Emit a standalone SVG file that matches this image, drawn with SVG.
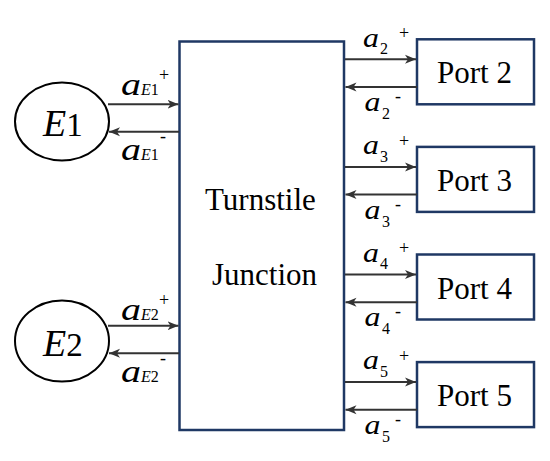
<svg xmlns="http://www.w3.org/2000/svg" width="550" height="461" viewBox="0 0 550 461">
<style>
.box{fill:#fff;stroke:#1f3864;stroke-width:2.5}
.src{fill:#fff;stroke:#000;stroke-width:2}
text{font-family:"Liberation Serif",serif;fill:#000}
.it{font-style:italic}
.cn line{stroke:#333;stroke-width:2}
</style>
<defs>
<marker id="ah" markerUnits="userSpaceOnUse" markerWidth="12" markerHeight="10" refX="11" refY="5" orient="auto">
<path d="M0,0.5 L11,5 L0,9.5 L3,5 z" fill="#333"/>
</marker>
</defs>
<rect width="550" height="461" fill="#fff"/>
<g id="junction">
<rect class="box" x="179.5" y="41.5" width="164.5" height="388.5"/>
<text x="205" y="210" font-size="31">Turnstile</text>
<text x="212" y="285" font-size="31">Junction</text>
</g>
<g id="E1">
<ellipse class="src" cx="62" cy="121.5" rx="47" ry="39"/>
<text y="136" font-size="38"><tspan class="it" x="43">E</tspan><tspan font-size="33">1</tspan></text>
</g>
<g id="E2">
<ellipse class="src" cx="62" cy="341" rx="47" ry="40.5"/>
<text y="356" font-size="38"><tspan class="it" x="43">E</tspan><tspan font-size="33">2</tspan></text>
</g>
<g id="port2"><rect class="box" x="417" y="39.3" width="117" height="65"/><text x="437" y="83.3" font-size="31">Port 2</text></g>
<g id="port3"><rect class="box" x="417" y="146.9" width="117" height="65"/><text x="437" y="190.9" font-size="31">Port 3</text></g>
<g id="port4"><rect class="box" x="417" y="254.5" width="117" height="65"/><text x="437" y="298.5" font-size="31">Port 4</text></g>
<g id="port5"><rect class="box" x="417" y="362.1" width="117" height="65"/><text x="437" y="406.1" font-size="31">Port 5</text></g>
<g id="connectors" class="cn">
<line x1="108" y1="104.3" x2="178.5" y2="104.3" marker-end="url(#ah)"/>
<line x1="179" y1="131.7" x2="109" y2="131.7" marker-end="url(#ah)"/>
<line x1="108" y1="325.7" x2="178.5" y2="325.7" marker-end="url(#ah)"/>
<line x1="179" y1="353.3" x2="109" y2="353.3" marker-end="url(#ah)"/>
<line x1="345" y1="59.3" x2="416" y2="59.3" marker-end="url(#ah)"/>
<line x1="417" y1="87" x2="345.5" y2="87" marker-end="url(#ah)"/>
<line x1="345" y1="166.9" x2="416" y2="166.9" marker-end="url(#ah)"/>
<line x1="417" y1="194.6" x2="345.5" y2="194.6" marker-end="url(#ah)"/>
<line x1="345" y1="274.5" x2="416" y2="274.5" marker-end="url(#ah)"/>
<line x1="417" y1="302.2" x2="345.5" y2="302.2" marker-end="url(#ah)"/>
<line x1="345" y1="382.1" x2="416" y2="382.1" marker-end="url(#ah)"/>
<line x1="417" y1="409.8" x2="345.5" y2="409.8" marker-end="url(#ah)"/>
</g>
<g id="labels">
<text transform="translate(121,95) scale(1.25,1)" font-size="32" class="it">a</text><text x="141" y="95" font-size="16"><tspan class="it">E</tspan>1</text><text x="159" y="81" font-size="18">+</text>
<text transform="translate(121,160) scale(1.25,1)" font-size="32" class="it">a</text><text x="141" y="160" font-size="16"><tspan class="it">E</tspan>1</text><text x="160" y="142" font-size="18">-</text>
<text transform="translate(121,320) scale(1.25,1)" font-size="32" class="it">a</text><text x="141" y="320" font-size="16"><tspan class="it">E</tspan>2</text><text x="159" y="306" font-size="18">+</text>
<text transform="translate(121,382) scale(1.25,1)" font-size="32" class="it">a</text><text x="141" y="382" font-size="16"><tspan class="it">E</tspan>2</text><text x="160" y="364" font-size="18">-</text>
<text transform="translate(363,46.5) scale(1.18,1)" font-size="27" class="it">a</text><text x="380" y="54" font-size="16">2</text><text x="399" y="39" font-size="18">+</text>
<text transform="translate(364.5,111) scale(1.18,1)" font-size="27" class="it">a</text><text x="382" y="119" font-size="16">2</text><text x="395" y="102" font-size="18">-</text>
<text transform="translate(363,154.1) scale(1.18,1)" font-size="27" class="it">a</text><text x="380" y="161.6" font-size="16">3</text><text x="399" y="146.6" font-size="18">+</text>
<text transform="translate(364.5,218.6) scale(1.18,1)" font-size="27" class="it">a</text><text x="382" y="226.6" font-size="16">3</text><text x="395" y="209.6" font-size="18">-</text>
<text transform="translate(363,261.7) scale(1.18,1)" font-size="27" class="it">a</text><text x="380" y="269.2" font-size="16">4</text><text x="399" y="254.2" font-size="18">+</text>
<text transform="translate(364.5,326.2) scale(1.18,1)" font-size="27" class="it">a</text><text x="382" y="334.2" font-size="16">4</text><text x="395" y="317.2" font-size="18">-</text>
<text transform="translate(363,369.3) scale(1.18,1)" font-size="27" class="it">a</text><text x="380" y="376.8" font-size="16">5</text><text x="399" y="361.8" font-size="18">+</text>
<text transform="translate(364.5,433.8) scale(1.18,1)" font-size="27" class="it">a</text><text x="382" y="441.8" font-size="16">5</text><text x="395" y="424.8" font-size="18">-</text>
</g>
</svg>
